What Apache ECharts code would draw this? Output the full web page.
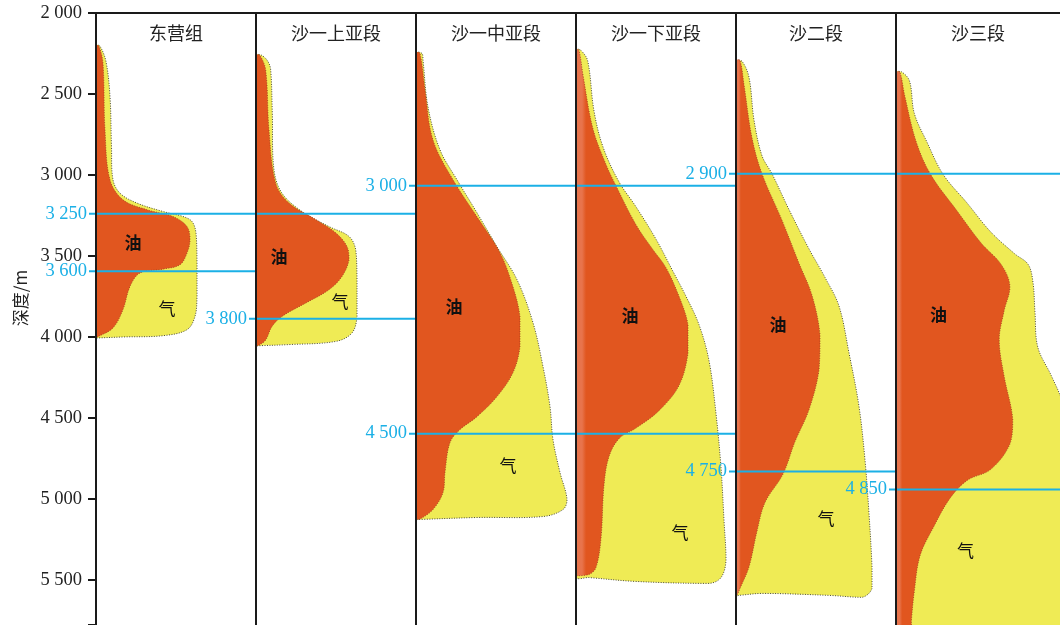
<!DOCTYPE html>
<html>
<head>
<meta charset="utf-8">
<title>各层段油气分布深度</title>
<script src="https://cdn.jsdelivr.net/npm/echarts@6/dist/echarts.min.js"></script>
<style>
  html, body { margin: 0; padding: 0; background: #fff; }
  #main { width: 1060px; height: 625px; }
</style>
</head>
<body>
<div id="main"></div>
<script>
// 层段
const zoneNames = ["东营组", "沙一上亚段", "沙一中亚段", "沙一下亚段", "沙二段", "沙三段"];

// 深度刻度 (m)
const depthTicks = [2000, 2500, 3000, 3500, 4000, 4500, 5000, 5500];

// 各层段油气分布轮廓：[相对宽度, 深度/m]
// 气 = 油气总范围(黄)，油 = 油(橙)
const gas_DY = [[0,2195],[4,2205],[10,2300],[14,2516],[15.5,2825],[17,3030],[24,3113],[41,3174],[67,3226],[87,3257],[96,3288],[100,3360],[101,3545],[101,3750],[99,3874],[91,3956],[67,3993],[27,4001],[2,4007],[0,4008]];
const oil_DY = [[0,2195],[3,2205],[7,2311],[9,2722],[14,3030],[27,3154],[51,3215],[77,3257],[91,3319],[94,3401],[91,3483],[84,3555],[67,3582],[44,3606],[34,3689],[27,3832],[17,3945],[2,3999],[0,4002]];

const gas_S1U = [[0,2255],[6,2262],[12,2300],[14.7,2352],[16.3,2619],[18,2969],[26,3113],[46,3226],[73,3319],[93,3380],[99.7,3462],[101,3647],[101,3874],[96,3976],[80,4028],[33,4048],[3,4055],[0,4056]];
const oil_S1U = [[0,2255],[4,2262],[9.7,2352],[13,2722],[19.7,3051],[33,3174],[60,3277],[80,3359],[91,3442],[93,3524],[86,3627],[73,3709],[50,3791],[26,3874],[16,3936],[9.7,4020],[3,4052],[0,4056]];

const gas_S1M = [[0,2240],[6,2250],[7,2290],[12,2580],[24,2845],[41,3030],[61,3234],[81,3444],[101,3647],[117,3913],[127,4184],[134,4431],[137,4635],[144,4838],[151,5005],[147,5067],[127,5110],[61,5116],[4,5128],[0,5129]];
const oil_S1M = [[0,2240],[4,2250],[9,2475],[17,2784],[37,3030],[61,3259],[84,3481],[97,3691],[104,3876],[104,4061],[97,4221],[81,4369],[61,4493],[44,4573],[34,4653],[29,4838],[27,4962],[17,5067],[4,5126],[0,5129]];

const gas_S1L = [[0,2220],[5,2231],[11.7,2296],[18,2605],[27,2827],[43,3043],[60,3197],[80,3397],[97,3596],[110,3750],[123,3925],[133,4147],[140,4474],[145,4807],[148,5134],[150,5379],[145,5487],[133,5523],[60,5511],[13,5487],[0,5481]];
const oil_S1L = [[0,2220],[3,2231],[7,2383],[17,2716],[30,2935],[40,3067],[60,3308],[77,3462],[90,3573],[103,3750],[112,3925],[112,4102],[103,4301],[83,4456],[60,4564],[43,4629],[33,4740],[28,4917],[25,5246],[20,5425],[13,5468],[0,5476]];

const gas_S2 = [[0,2290],[6,2298],[13,2397],[18,2661],[26,2882],[36,2993],[53,3214],[73,3457],[89,3633],[103,3810],[113,4099],[123,4430],[129,4761],[133,5091],[136,5421],[136,5554],[126,5609],[93,5597],[26,5585],[3,5597],[0,5598]];
const oil_S2 = [[0,2287],[4,2292],[8,2442],[16,2771],[26,2993],[46,3280],[63,3545],[76,3744],[84,3987],[83,4207],[73,4450],[59,4647],[47,4848],[29,5024],[21,5201],[13,5421],[4,5554],[1,5596],[0,5598]];

const gas_S3 = [[0,2360],[6,2364],[14,2420],[19,2620],[32,2796],[49,2998],[74,3176],[98,3351],[123,3487],[137,3553],[142,3664],[144,3842],[147,4064],[161,4240],[172,4397],[180,4650],[184,5000],[185,5400],[185,5850],[0,5851]];
const oil_S3 = [[0,2360],[4,2364],[9,2509],[21,2796],[36,2998],[63,3220],[88,3419],[109,3553],[118,3685],[112,3842],[107,4018],[112,4240],[121,4508],[118,4664],[98,4820],[74,4886],[56,4997],[39,5174],[25,5350],[19,5572],[16,5751],[15,5850],[0,5851]];

const gasProfiles = [gas_DY, gas_S1U, gas_S1M, gas_S1L, gas_S2, gas_S3];
const oilProfiles = [oil_DY, oil_S1U, oil_S1M, oil_S1L, oil_S2, oil_S3];

// 油/气 界线：绘制深度、标注、起止层段
const boundaryDepth = [3240, 3595, 3888, 3067, 4598, 2993, 4832, 4943];
const boundaryText = ["3 250", "3 600", "3 800", "3 000", "4 500", "2 900", "4 750", "4 850"];
const boundaryFrom = [0, 0, 1, 2, 2, 4, 4, 5];
const boundaryTo = [1, 0, 1, 3, 3, 5, 4, 5];

// 文字位置（油、气）
const tagText = ["油", "气"];
const tagPos = [
  [[37, 3419], [71, 3826]],
  [[23, 3505], [84, 3783]],
  [[38, 3814], [92, 4795]],
  [[54, 3870], [104, 5208]],
  [[42, 3925], [90, 5122]],
  [[44, 3863], [72, 5319]]
];

const OIL = "#E1561F";
const OIL_LIGHT = "#E8744C";
const GAS = "#EFEB55";
const CYAN = "#1BB0E6";
const INK = "#1a1a1a";
const stripW = [0, 0, 0, 8, 4, 5];   // 左侧浅色条带宽度(px)

const panelW = zoneNames.map((n, i) => (i < 5 ? 160 : 170));

const chart = echarts.init(document.getElementById("main"));

const grids = zoneNames.map((n, i) => ({
  left: 96 + 160 * i,
  top: 13,
  width: panelW[i],
  height: 612
}));

const xAxes = zoneNames.map((n, i) => ({
  gridIndex: i,
  type: "value",
  min: 0,
  max: panelW[i],
  position: "top",
  axisLine: { show: true, onZero: false, lineStyle: { color: INK, width: 2 } },
  axisTick: { show: false },
  axisLabel: { show: false },
  splitLine: { show: false },
  name: n,
  nameLocation: "middle",
  nameGap: -20,
  nameTextStyle: {
    fontFamily: "Noto Sans CJK SC",
    fontSize: 18,
    color: "#222",
    verticalAlign: "middle"
  },
  z: 10
}));

const yAxes = zoneNames.map((n, i) => ({
  gridIndex: i,
  type: "value",
  inverse: true,
  min: 2000,
  max: 5780,
  interval: 500,
  axisLine: { show: true, onZero: false, lineStyle: { color: INK, width: 2 } },
  axisTick: { show: i === 0, length: 8, lineStyle: { color: INK, width: 2 } },
  axisLabel: {
    show: i === 0,
    margin: 14,
    fontFamily: "Liberation Serif",
    fontSize: 18.5,
    color: "#222",
    formatter: function (v) {
      if (depthTicks.indexOf(v) < 0) return "";
      return String(v).replace(/(\d)(\d{3})$/, "$1 $2");
    }
  },
  splitLine: { show: false },
  z: 10
}));

function shapeSeries(i, points, fill, stroke, lw, z, strip) {
  return {
    type: "custom",
    xAxisIndex: i,
    yAxisIndex: i,
    clip: true,
    silent: true,
    z: z,
    data: points,
    renderItem: function (params, api) {
      if (params.dataIndex !== 0) return;
      const pts = points.map(p => api.coord(p));
      let color = fill;
      if (strip) {
        let minX = Infinity, maxX = -Infinity;
        pts.forEach(p => { minX = Math.min(minX, p[0]); maxX = Math.max(maxX, p[0]); });
        const f = strip / (maxX - minX);
        color = new echarts.graphic.LinearGradient(0, 0, 1, 0, [
          { offset: 0, color: OIL_LIGHT },
          { offset: f * 0.8, color: OIL_LIGHT },
          { offset: f * 1.3, color: fill },
          { offset: 1, color: fill }
        ]);
      }
      return {
        type: "polygon",
        shape: { points: pts, smooth: 0.35, smoothConstraint: [pts[0], pts[0]] },
        style: { fill: color, stroke: stroke, lineWidth: lw, lineDash: [1, 1.5] }
      };
    }
  };
}

function tagSeries(i) {
  return {
    type: "custom",
    xAxisIndex: i,
    yAxisIndex: i,
    silent: true,
    z: 4,
    data: tagPos[i],
    renderItem: function (params, api) {
      const p = api.coord([api.value(0), api.value(1)]);
      return {
        type: "text",
        x: p[0],
        y: p[1],
        style: {
          text: tagText[params.dataIndex],
          fill: "#111",
          fontFamily: "Noto Sans CJK SC",
          fontSize: 17,
          fontWeight: params.dataIndex === 0 ? "bold" : "normal",
          align: "center",
          verticalAlign: "middle"
        }
      };
    }
  };
}

function boundarySeries(i) {
  const items = [];
  boundaryDepth.forEach((d, k) => {
    if (boundaryFrom[k] <= i && boundaryTo[k] >= i) items.push([0, d, k]);
  });
  return {
    type: "custom",
    xAxisIndex: i,
    yAxisIndex: i,
    silent: true,
    z: 6,
    encode: { x: 0, y: 1 },
    data: items,
    renderItem: function (params, api) {
      const d = api.value(1);
      const k = api.value(2);
      const a = api.coord([0, d]);
      const b = api.coord([panelW[i], d]);
      const first = boundaryFrom[k] === i;
      const children = [{
        type: "line",
        shape: { x1: first ? a[0] - 7 : a[0], y1: a[1], x2: b[0], y2: a[1] },
        style: { stroke: CYAN, lineWidth: 2 }
      }];
      if (first) {
        children.push({
          type: "text",
          x: a[0] - 9,
          y: a[1],
          style: {
            text: boundaryText[k],
            fill: CYAN,
            fontFamily: "Liberation Serif",
            fontSize: 18.5,
            align: "right",
            verticalAlign: "middle"
          }
        });
      }
      return { type: "group", children: children };
    }
  };
}

const series = [];
zoneNames.forEach((n, i) => {
  series.push(shapeSeries(i, gasProfiles[i], GAS, "#4b4b40", 1, 2, 0));
  series.push(shapeSeries(i, oilProfiles[i], OIL, "#9c3a1c", 0.8, 3, stripW[i]));
  series.push(tagSeries(i));
  series.push(boundarySeries(i));
});

const option = {
  backgroundColor: "#fff",
  animation: false,
  grid: grids,
  xAxis: xAxes,
  yAxis: yAxes,
  graphic: [{
    type: "text",
    x: 21,
    y: 298,
    rotation: Math.PI / 2,
    style: {
      text: "深度/m",
      fill: "#222",
      fontFamily: "Noto Sans CJK SC",
      fontSize: 17,
      align: "center",
      verticalAlign: "middle"
    }
  }],
  series: series
};

chart.setOption(option);
</script>
</body>
</html>
